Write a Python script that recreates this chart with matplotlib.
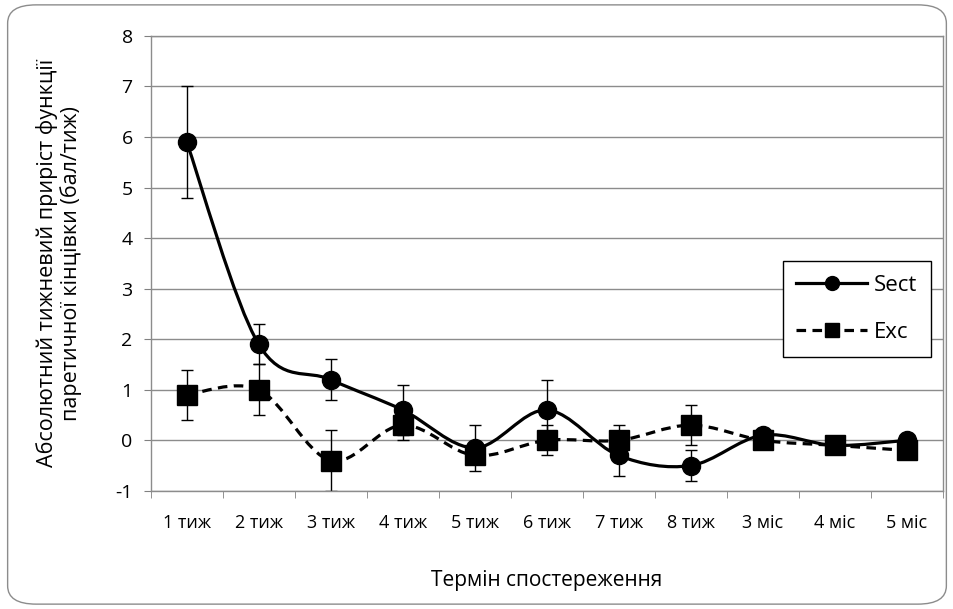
import numpy as np
import matplotlib
matplotlib.use('Agg')
import matplotlib.pyplot as plt
from matplotlib.path import Path
from matplotlib.patches import PathPatch, FancyBboxPatch
from matplotlib.lines import Line2D

plt.rcParams['font.family'] = ['Open Sans', 'DejaVu Sans']
plt.rcParams['axes.unicode_minus'] = False

# ---------------------------------------------------------------------
#  Dados
# ---------------------------------------------------------------------
categorias = ['1 тиж', '2 тиж', '3 тиж', '4 тиж', '5 тиж', '6 тиж',
              '7 тиж', '8 тиж', '3 міс', '4 міс', '5 міс']

sect = [5.9, 1.9, 1.2, 0.6, -0.15, 0.6, -0.3, -0.5, 0.1, -0.1, 0.0]
sect_err = [1.1, 0.4, 0.4, 0.5, 0.45, 0.6, 0.4, 0.3, 0.0, 0.0, 0.0]

exc = [0.9, 1.0, -0.4, 0.3, -0.3, 0.0, 0.0, 0.3, 0.0, -0.1, -0.2]
exc_err = [0.5, 0.5, 0.6, 0.3, 0.0, 0.3, 0.3, 0.4, 0.0, 0.0, 0.0]


def curva_suave(xs, ys):
    # linha suavizada tipo Excel (Catmull-Rom -> Bezier)
    xs = np.asarray(xs, float)
    ys = np.asarray(ys, float)
    n = len(xs)
    verts = [(xs[0], ys[0])]
    codes = [Path.MOVETO]
    for i in range(n - 1):
        p0 = (xs[max(i - 1, 0)], ys[max(i - 1, 0)])
        p1 = (xs[i], ys[i])
        p2 = (xs[i + 1], ys[i + 1])
        p3 = (xs[min(i + 2, n - 1)], ys[min(i + 2, n - 1)])
        c1 = (p1[0] + (p2[0] - p0[0]) / 6, p1[1] + (p2[1] - p0[1]) / 6)
        c2 = (p2[0] - (p3[0] - p1[0]) / 6, p2[1] - (p3[1] - p1[1]) / 6)
        verts += [c1, c2, p2]
        codes += [Path.CURVE4] * 3
    return Path(verts, codes)


fig = plt.figure(figsize=(9.54, 6.09), dpi=100)
ax = fig.add_axes([0.158, 0.194, 0.830, 0.747])

x = np.arange(len(categorias))

# Linhas suavizadas
ax.add_patch(PathPatch(curva_suave(x, sect), fill=False, edgecolor='black',
                       linewidth=2.3, zorder=3))
ax.add_patch(PathPatch(curva_suave(x, exc), fill=False, edgecolor='black',
                       linewidth=2.3, linestyle=(0, (3, 2)), zorder=3))

# Barras de erro
ax.errorbar(x, sect, yerr=sect_err, fmt='none', ecolor='black',
            elinewidth=1, capsize=4, capthick=1, zorder=2)
ax.errorbar(x, exc, yerr=exc_err, fmt='none', ecolor='black',
            elinewidth=1, capsize=4, capthick=1, zorder=2)

# Marcadores
ax.plot(x, sect, linestyle='none', marker='o', markersize=13,
        color='black', zorder=4)
ax.plot(x, exc, linestyle='none', marker='s', markersize=14,
        color='black', zorder=4)

# Eixos
ax.set_xlim(-0.5, len(categorias) - 0.5)
ax.set_ylim(-1, 8)
ax.set_yticks(range(-1, 9))
ax.set_xticks(x)
ax.set_xticklabels(categorias, fontsize=13)
ax.set_xticks(np.arange(-0.5, len(categorias)), minor=True)
ax.tick_params(axis='x', which='major', length=0, pad=17)
ax.tick_params(axis='x', which='minor', length=5, color='#808080')
ax.tick_params(axis='y', length=5, color='#808080', labelsize=14, pad=8)
ax.grid(axis='y', color='#8c8c8c', linewidth=1)
ax.set_axisbelow(True)
for s in ax.spines.values():
    s.set_color('#8c8c8c')
    s.set_linewidth(1)

ax.set_xlabel('Термін спостереження', fontsize=15, labelpad=27)
ax.set_ylabel('Абсолютний тижневий приріст функції\nпаретичної кінцівки (бал/тиж)',
              fontsize=15.5, labelpad=24, linespacing=1.15)

# Legenda
h_sect = Line2D([], [], color='black', linewidth=2.3, marker='o', markersize=10)
h_exc = Line2D([], [], color='black', linewidth=2.3, linestyle=(0, (3, 2)),
               marker='s', markersize=10)
leg = ax.legend([h_sect, h_exc], ['Sect', 'Exc'], loc='center right',
                bbox_to_anchor=(0.985, 0.40), fontsize=16, labelspacing=1.2,
                handlelength=3.2, handletextpad=0.3, borderpad=0.6,
                borderaxespad=0, fancybox=False, framealpha=1,
                edgecolor='black')
leg.get_frame().set_linewidth(1)

# Moldura externa arredondada
fig.patches.append(FancyBboxPatch((0.008, 0.008), 0.984, 0.984,
                                  boxstyle='round,pad=0,rounding_size=0.03',
                                  transform=fig.transFigure, fill=False,
                                  edgecolor='#8c8c8c', linewidth=1))

plt.savefig('out.png', dpi=100)
plt.close()
